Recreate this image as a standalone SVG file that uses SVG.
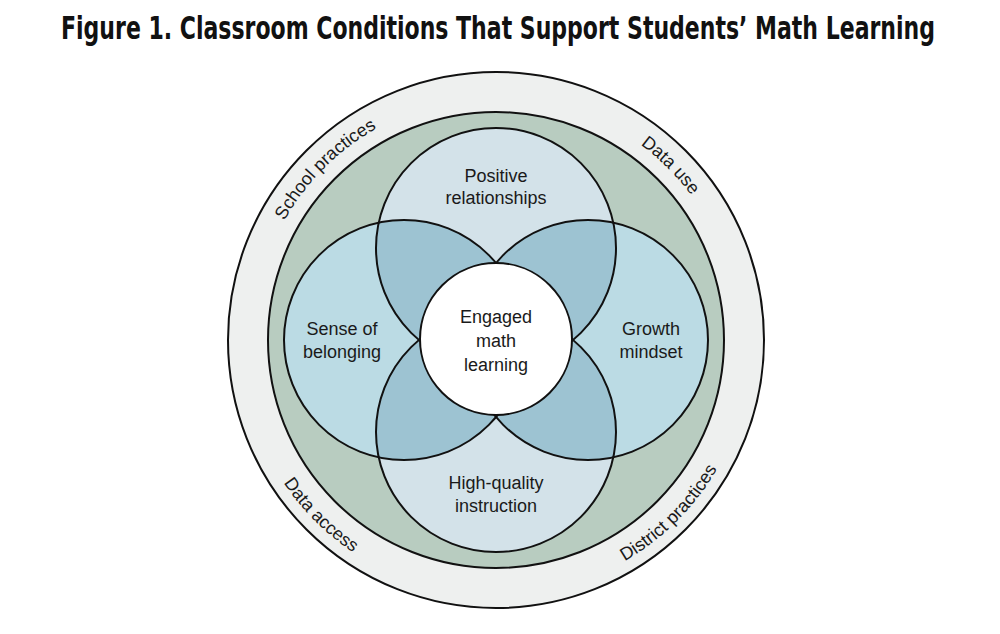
<svg xmlns="http://www.w3.org/2000/svg" width="1000" height="634" viewBox="0 0 1000 634">
<style>
.t{font-family:"Liberation Sans","Arial",sans-serif;font-size:18px;fill:#1a1a1a;text-anchor:middle}
.ring{stroke:#111;stroke-width:2}
.c{stroke:#111;stroke-width:2;fill:none}
</style>
<defs>
<clipPath id="lr">
<circle cx="404" cy="340" r="120"/>
<circle cx="588" cy="340" r="120"/>
</clipPath>
<path id="pUL" d="M253,340 A243,243 0 0 1 496,97"/>
<path id="pUR" d="M496,97 A243,243 0 0 1 739,340"/>
<path id="pLL" d="M240,340 A256,256 0 0 0 496,596"/>
<path id="pLR" d="M496,596 A256,256 0 0 0 752,340"/>
</defs>
<rect width="1000" height="634" fill="#ffffff"/>
<g id="title" transform="translate(498,39) scale(0.76,1)">
<text x="0" y="0" font-family="'Liberation Sans Narrow','DejaVu Sans Condensed','DejaVu Sans',sans-serif" font-stretch="condensed" font-weight="bold" font-size="32" fill="#111111" text-anchor="middle" textLength="1150" lengthAdjust="spacingAndGlyphs">Figure 1. Classroom Conditions That Support Students’ Math Learning</text>
</g>
<g id="outer-ring">
<circle cx="496" cy="340" r="268" fill="#eef0ef" class="ring"/>
<text class="t"><textPath href="#pUL" startOffset="50%">School practices</textPath></text>
<text class="t"><textPath href="#pUR" startOffset="50%">Data use</textPath></text>
<text class="t"><textPath href="#pLL" startOffset="50%">Data access</textPath></text>
<text class="t"><textPath href="#pLR" startOffset="50%">District practices</textPath></text>
</g>
<g id="green-ring">
<circle cx="496" cy="340" r="228" fill="#b8ccc0" class="ring"/>
</g>
<g id="fills">
<circle cx="496" cy="248" r="120" fill="#d3e2e9"/>
<circle cx="496" cy="432" r="120" fill="#d3e2e9"/>
<circle cx="404" cy="340" r="120" fill="#bbdbe4"/>
<circle cx="588" cy="340" r="120" fill="#bbdbe4"/>
<g clip-path="url(#lr)">
<circle cx="496" cy="248" r="120" fill="#9dc3d2"/>
<circle cx="496" cy="432" r="120" fill="#9dc3d2"/>
</g>
</g>
<g id="positive-relationships">
<circle cx="496" cy="248" r="120" class="c"/>
<text class="t" x="496" y="182">Positive</text>
<text class="t" x="496" y="204">relationships</text>
</g>
<g id="high-quality-instruction">
<circle cx="496" cy="432" r="120" class="c"/>
<text class="t" x="496" y="489">High-quality</text>
<text class="t" x="496" y="512">instruction</text>
</g>
<g id="sense-of-belonging">
<circle cx="404" cy="340" r="120" class="c"/>
<text class="t" x="342" y="335">Sense of</text>
<text class="t" x="342" y="358">belonging</text>
</g>
<g id="growth-mindset">
<circle cx="588" cy="340" r="120" class="c"/>
<text class="t" x="651" y="335">Growth</text>
<text class="t" x="651" y="358">mindset</text>
</g>
<g id="engaged-math-learning">
<circle cx="496" cy="339" r="76" fill="#ffffff" class="ring"/>
<text class="t" x="496" y="323">Engaged</text>
<text class="t" x="496" y="347">math</text>
<text class="t" x="496" y="371">learning</text>
</g>
<g id="connectors"/>
</svg>
